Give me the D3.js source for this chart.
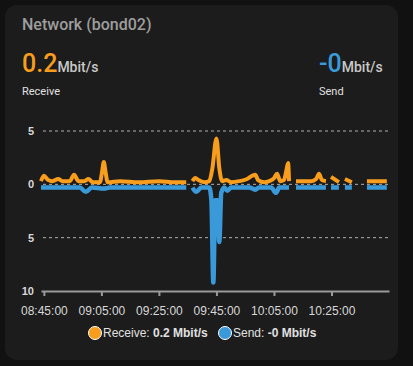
<!DOCTYPE html>
<html>
<head>
<meta charset="utf-8">
<script src="https://cdn.jsdelivr.net/npm/d3@7"></script>
<style>
  html, body { margin: 0; padding: 0; background: #111111; }
  svg { display: block; }
</style>
</head>
<body>
<svg width="413" height="366"></svg>
<script>
// receive samples (Mbit/s), null = no data
var recvTimes = ["08:44:00","08:45:00","08:46:30","08:48:00","08:50:00","08:51:30","08:54:00","08:55:30","08:57:00","08:59:00",
  "09:00:30","09:02:00","09:04:30","09:05:15","09:05:50","09:06:25","09:07:10","09:11:30","09:18:00","09:25:00","09:30:30","09:34:30",
  "09:35:30",
  "09:36:40","09:37:40","09:38:45","09:40:50","09:42:30","09:43:35","09:45:00","09:46:00","09:47:00","09:48:25","09:50:10","09:52:55",
  "09:55:40","09:57:25","09:58:30","09:59:30","10:01:35","10:03:20","10:05:05","10:06:05","10:07:10","10:08:30","10:09:15","10:09:55","10:10:15",
  "10:11:30",
  "10:12:40","10:15:30","10:17:55","10:19:40","10:20:40","10:21:40","10:23:05",
  "10:24:00",
  "10:24:50","10:27:35",
  "10:28:40",
  "10:29:40","10:32:05",
  "10:35:00",
  "10:37:20","10:44:15"];
var recvValues = [0.3,0.8,0.4,0.3,0.5,0.3,0.3,0.9,0.3,0.3,
  0.5,0.2,0.2,1.2,2.1,1.2,0.2,0.3,0.2,0.3,0.2,0.2,
  null,
  0.3,0.6,0.4,0.2,0.3,1.5,4.3,1.5,0.3,0.4,0.2,0.3,
  0.5,0.8,0.9,0.4,0.2,0.3,0.6,1.0,0.3,0.4,1.2,2.0,0.3,
  null,
  0.3,0.3,0.3,0.5,1.0,0.4,0.3,
  null,
  0.7,0.2,
  null,
  0.5,0.2,
  null,
  0.3,0.3];

// send samples (Mbit/s, drawn negative)
var sendTimes = ["08:44:00","08:54:00","08:57:30","08:59:35","09:01:40","09:05:50","09:08:00","09:34:30",
  "09:35:30",
  "09:36:40","09:38:00","09:39:45","09:42:30","09:43:15","09:43:55","09:44:35","09:45:20","09:46:00","09:46:40","09:47:45",
  "09:48:45","09:50:10","09:56:25","09:58:30","09:59:50","10:04:00","10:05:45","10:06:50","10:10:15",
  "10:11:30",
  "10:12:40","10:23:05",
  "10:24:00",
  "10:24:50","10:27:35",
  "10:28:40",
  "10:29:40","10:32:05",
  "10:35:00",
  "10:37:20","10:44:15"];
var sendValues = [-0.3,-0.3,-0.3,-0.7,-0.3,-0.4,-0.3,-0.3,
  null,
  -0.3,-0.7,-0.3,-0.3,-1.5,-9.2,-1.5,-1.5,-5.4,-0.8,-0.3,
  -0.6,-0.3,-0.3,-0.5,-0.3,-0.3,-0.8,-0.3,-0.3,
  null,
  -0.3,-0.3,
  null,
  -0.3,-0.3,
  null,
  -0.3,-0.3,
  null,
  -0.3,-0.3];

var yTicks = [5, 0, -5, -10];
var xTicks = ["08:45:00","09:05:00","09:25:00","09:45:00","10:05:00","10:25:00"];

var svg = d3.select("svg"),
    margin = {top: 131, left: 41, right: 24, bottom: 75},
    width = +svg.attr("width") - margin.left - margin.right,
    height = +svg.attr("height") - margin.top - margin.bottom;

var parseTime = d3.timeParse("%H:%M:%S");

var x = d3.scaleTime()
    .domain([parseTime("08:44:00"), parseTime("10:45:00")])
    .range([0, width]);
var y = d3.scaleLinear().domain([-10, 5]).range([height, 0]);

// card
svg.append("rect")
    .attr("x", 5).attr("y", 5)
    .attr("width", 393).attr("height", 355)
    .attr("rx", 12)
    .attr("fill", "#1c1c1c");

svg.append("text")
    .attr("x", 22).attr("y", 30)
    .attr("font-family", "Roboto, sans-serif")
    .attr("font-size", 16)
    .attr("font-weight", 500)
    .attr("fill", "#9e9e9e")
    .text("Network (bond02)");

function stateBlock(xPos, value, color, label) {
  var t = svg.append("text")
      .attr("x", xPos).attr("y", 72)
      .attr("font-family", "Roboto, sans-serif")
      .attr("font-weight", 500);
  t.append("tspan").attr("font-size", 25).attr("fill", color).text(value);
  t.append("tspan").attr("font-size", 14).attr("fill", "#c8c8c8").text("Mbit/s");
  svg.append("text")
      .attr("x", xPos).attr("y", 95)
      .attr("font-family", "Roboto, sans-serif")
      .attr("font-size", 11)
      .attr("fill", "#e0e0e0")
      .text(label);
}
stateBlock(22, "0.2", "#f99d1c", "Receive");
stateBlock(319, "-0", "#3a9ad9", "Send");

var g = svg.append("g")
    .attr("transform", "translate(" + margin.left + "," + margin.top + ")");

// dashed grid
g.selectAll(".grid")
    .data(yTicks.slice(0, 3))
  .enter().append("line")
    .attr("x1", 2).attr("x2", width)
    .attr("y1", function(d) { return y(d); })
    .attr("y2", function(d) { return y(d); })
    .attr("stroke", "#b0b0b0")
    .attr("stroke-width", 1)
    .attr("stroke-dasharray", "3,3");

// y labels (absolute values)
g.selectAll(".ylab")
    .data(yTicks)
  .enter().append("text")
    .attr("x", -7)
    .attr("y", function(d) { return y(d); })
    .attr("dy", "0.35em")
    .attr("text-anchor", "end")
    .attr("font-family", "Liberation Sans, Arial, sans-serif")
    .attr("font-size", 11)
    .attr("font-weight", "bold")
    .attr("fill", "#d8d8d8")
    .text(function(d) { return Math.abs(d); });

// x axis
var xAxis = d3.axisBottom(x)
    .tickValues(xTicks.map(parseTime))
    .tickFormat(d3.timeFormat("%H:%M:%S"))
    .tickSizeInner(5).tickSizeOuter(0).tickPadding(10);

var ax = g.append("g")
    .attr("transform", "translate(0," + height + ")")
    .call(xAxis);
ax.select(".domain").attr("stroke", "#9a9a9a").attr("stroke-width", 2);
ax.selectAll(".tick line").attr("stroke", "#9a9a9a").attr("stroke-width", 2);
ax.selectAll(".tick text")
    .attr("font-family", "Liberation Sans, Arial, sans-serif")
    .attr("font-size", 12)
    .attr("fill", "#d8d8d8");

function series(times, values) {
  return times.map(function(t, i) { return {date: parseTime(t), value: values[i]}; });
}

var line = d3.line()
    .defined(function(d) { return d.value !== null; })
    .curve(d3.curveMonotoneX)
    .x(function(d) { return x(d.date); })
    .y(function(d) { return y(d.value); });

g.append("path")
    .datum(series(sendTimes, sendValues))
    .attr("fill", "none")
    .attr("stroke", "#3a9ad9")
    .attr("stroke-width", 4.5)
    .attr("stroke-linejoin", "round")
    .attr("d", line);

g.append("path")
    .datum(series(recvTimes, recvValues))
    .attr("fill", "none")
    .attr("stroke", "#f99d1c")
    .attr("stroke-width", 4)
    .attr("stroke-linejoin", "round")
    .attr("d", line);

// legend
var legend = svg.append("g")
    .attr("font-family", "Liberation Sans, Arial, sans-serif")
    .attr("font-size", 12)
    .attr("fill", "#e0e0e0");

var keys = [
  {name: "Receive: ", val: "0.2 Mbit/s", color: "#f99d1c", x: 95},
  {name: "Send: ", val: "-0 Mbit/s", color: "#3a9ad9", x: 225}
];
keys.forEach(function(k) {
  legend.append("circle")
      .attr("cx", k.x).attr("cy", 333).attr("r", 6.5)
      .attr("fill", k.color)
      .attr("stroke", "#ffffff").attr("stroke-width", 1);
  var t = legend.append("text").attr("x", k.x + 8).attr("y", 337);
  t.append("tspan").text(k.name);
  t.append("tspan").attr("font-weight", "bold").text(k.val);
});
</script>
</body>
</html>
